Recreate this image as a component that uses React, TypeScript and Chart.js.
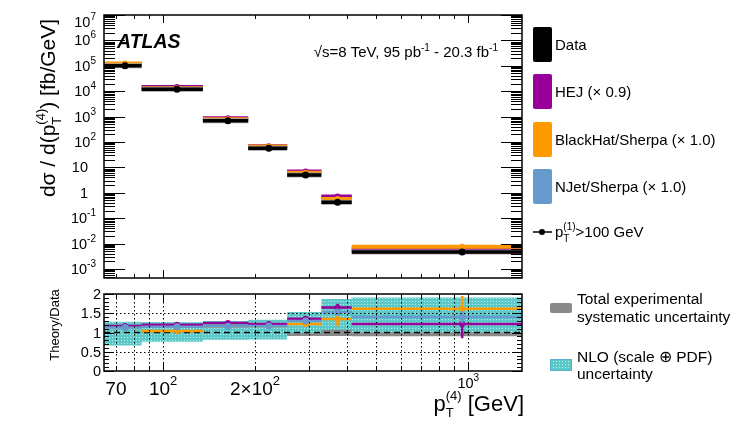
import { useEffect, useRef } from "react";
import { Chart, registerables } from "chart.js";

Chart.register(...registerables);

const FONT = "'Liberation Sans', Arial, Helvetica, sans-serif";

// pT(4) bins [GeV] and where the markers sit
const binEdges = [64, 85, 135, 190, 255, 330, 415, 1500];
const pointX = [75, 111, 163, 222, 293, 373, 955];

// dsigma/dpT(4) [fb/GeV]
const dataXsec = [1.0e5, 1.2e4, 680, 56, 5.0, 0.42, 0.0046];
const hejXsec = [1.18e5, 1.45e4, 860, 68, 6.8, 0.72, 0.0058];
const blackhatXsec = [1.22e5, 1.3e4, 780, 67, 6.2, 0.57, 0.0074];
const njetXsec = [1.17e5, 1.38e4, 790, 66, 6.5, 0.65, 0.0065];

// theory / data
const hejRatio = [1.17, 1.2, 1.25, 1.22, 1.36, 1.65, 1.22];
const hejErrLo = [1.17, 1.2, 1.25, 1.22, 1.36, 1.56, 0.85];
const hejErrHi = [1.17, 1.2, 1.25, 1.22, 1.36, 1.75, 1.28];
const blackhatRatio = [1.14, 1.04, 1.16, 1.17, 1.22, 1.35, 1.62];
const blackhatErrLo = [1.14, 1.04, 1.16, 1.17, 1.14, 1.16, 1.3];
const blackhatErrHi = [1.14, 1.04, 1.16, 1.17, 1.26, 1.4, 1.95];
const njetRatio = [1.13, 1.15, 1.16, 1.17, 1.3, 1.53, 1.4];
const njetErrLo = [1.13, 1.15, 1.16, 1.17, 1.3, 1.45, 1.25];
const njetErrHi = [1.13, 1.15, 1.16, 1.17, 1.3, 1.6, 1.55];
const nloLo = [0.66, 0.76, 0.81, 0.82, 0.98, 1.07, 1.0];
const nloHi = [1.28, 1.27, 1.3, 1.33, 1.53, 1.87, 1.91];
const sysLo = [0.93, 0.93, 0.93, 0.92, 0.91, 0.91, 0.9];
const sysHi = [1.07, 1.07, 1.07, 1.08, 1.09, 1.09, 1.1];

// axes
const topTickValues = [1e7, 1e6, 1e5, 1e4, 1e3, 1e2, 10, 1, 0.1, 0.01, 0.001];
const topTickLabels = ["10^7", "10^6", "10^5", "10^4", "10^3", "10^2", "10", "1", "10^-1", "10^-2", "10^-3"];
const ratioTickValues = [0, 0.5, 1, 1.5, 2];
const ratioTickLabels = ["0", "0.5", "1", "1.5", "2"];
const xTickValues = [70, 100, 200];
const xTickLabels = ["70", "10^2", "2\u00d710^2"];
const xGridValues = [70, 80, 90, 100, 200, 300, 400, 500, 600, 700, 800, 900, 1000];

const MAGENTA = "#990099";
const ORANGE = "#ff9900";
const BLUE = "#6699cc";
const GREY = "#8a8a8a";

type Run = { t: string; size: number; dy?: number; style?: string; under?: { t: string; dy: number } };

const fontOf = (r: Run) => `${r.style ?? ""} ${r.size}px ${FONT}`;

function drawRich(ctx: CanvasRenderingContext2D, runs: Run[], x: number, y: number, align: "left" | "center" | "right") {
  const widths = runs.map((r) => {
    ctx.font = fontOf(r);
    let w = ctx.measureText(r.t).width;
    if (r.under) w = Math.max(w, ctx.measureText(r.under.t).width);
    return w;
  });
  const total = widths.reduce((a, b) => a + b, 0);
  let cx = align === "left" ? x : align === "center" ? x - total / 2 : x - total;
  ctx.textAlign = "left";
  ctx.textBaseline = "alphabetic";
  ctx.fillStyle = "#000";
  runs.forEach((r, i) => {
    ctx.font = fontOf(r);
    ctx.fillText(r.t, cx, y + (r.dy ?? 0));
    if (r.under) ctx.fillText(r.under.t, cx, y + r.under.dy);
    cx += widths[i];
  });
}

function powRuns(label: string, size: number, sup: number, dy: number): Run[] {
  const [base, exp] = label.split("^");
  const runs: Run[] = [{ t: base, size }];
  if (exp) runs.push({ t: exp, size: sup, dy });
  return runs;
}

function binSegments(vals: number[]) {
  const pts: { x: number; y: number | null }[] = [];
  vals.forEach((v, i) => {
    pts.push({ x: binEdges[i], y: v }, { x: binEdges[i + 1], y: v }, { x: binEdges[i + 1], y: null });
  });
  return pts;
}

function stepLine(vals: number[]) {
  const pts: { x: number; y: number }[] = [];
  vals.forEach((v, i) => pts.push({ x: binEdges[i], y: v }, { x: binEdges[i + 1], y: v }));
  return pts;
}

function errBars(lo: number[], hi: number[]) {
  const pts: { x: number; y: number | null }[] = [];
  lo.forEach((l, i) => pts.push({ x: pointX[i], y: l }, { x: pointX[i], y: hi[i] }, { x: pointX[i], y: null }));
  return pts;
}

const markers = (vals: number[]) => vals.map((v, i) => ({ x: pointX[i], y: v }));

function bars(data: any, color: string, width: number, order: number) {
  return { data, borderColor: color, borderWidth: width, pointRadius: 0, order, spanGaps: false };
}

function dots(data: any, color: string, r: number, order: number) {
  return { data, showLine: false, pointRadius: r, pointBackgroundColor: color, pointBorderWidth: 0, order };
}

function drawFrameTicks(ctx: CanvasRenderingContext2D, chart: any, yMinor: number[], yMajor: (v: number) => boolean, yLen: [number, number]) {
  const a = chart.chartArea;
  const xs = chart.scales.x;
  const ys = chart.scales.y;
  ctx.save();
  ctx.strokeStyle = "#000";
  ctx.lineWidth = 1;
  ctx.beginPath();
  for (const v of yMinor) {
    const py = Math.round(ys.getPixelForValue(v)) + 0.5;
    const len = yMajor(v) ? yLen[0] : yLen[1];
    ctx.moveTo(a.left, py);
    ctx.lineTo(a.left + len, py);
    ctx.moveTo(a.right, py);
    ctx.lineTo(a.right - len, py);
  }
  for (const v of xGridValues) {
    const px = Math.round(xs.getPixelForValue(v)) + 0.5;
    const len = v === 100 || v === 1000 ? 8 : 4;
    ctx.moveTo(px, a.bottom);
    ctx.lineTo(px, a.bottom - len);
    ctx.moveTo(px, a.top);
    ctx.lineTo(px, a.top + len);
  }
  ctx.stroke();
  ctx.lineWidth = 1.5;
  ctx.strokeRect(a.left, a.top, a.right - a.left, a.bottom - a.top);
  ctx.restore();
}

function legendBox(ctx: CanvasRenderingContext2D, x: number, y: number, w: number, h: number, fill: string | CanvasPattern) {
  ctx.save();
  ctx.fillStyle = fill;
  ctx.beginPath();
  ctx.roundRect(x, y, w, h, 2);
  ctx.fill();
  ctx.restore();
}

const topDecor = {
  id: "topDecor",
  afterDraw(chart: any) {
    const ctx: CanvasRenderingContext2D = chart.ctx;
    const ys = chart.scales.y;
    const a = chart.chartArea;
    const minor: number[] = [];
    for (let e = -4; e <= 7; e++) for (let m = 1; m <= 9; m++) {
      const v = m * Math.pow(10, e);
      if (v >= ys.min && v <= ys.max * 1.0001) minor.push(v);
    }
    drawFrameTicks(ctx, chart, minor, (v) => Math.abs(Math.log10(v) - Math.round(Math.log10(v))) < 1e-6, [21, 11]);

    topTickValues.forEach((v, i) => {
      const lbl = topTickLabels[i];
      const py = Math.max(ys.getPixelForValue(v), a.top + 7) + 5;
      drawRich(ctx, powRuns(lbl, 14.5, 10, -7), lbl.includes("^") ? 96 : 88, py, "right");
    });

    drawRich(ctx, [{ t: "ATLAS", size: 19.5, style: "italic bold" }], 117, 48, "left");
    drawRich(
      ctx,
      [
        { t: "\u221as=8 TeV, 95 pb", size: 15 },
        { t: "-1", size: 10, dy: -6 },
        { t: " - 20.3 fb", size: 15 },
        { t: "-1", size: 10, dy: -6 },
      ],
      498,
      57,
      "right"
    );

    ctx.save();
    ctx.translate(55, 108);
    ctx.rotate(-Math.PI / 2);
    drawRich(
      ctx,
      [
        { t: "d\u03c3 / d(p", size: 21 },
        { t: "(4)", size: 13, dy: -10, under: { t: "T", dy: 6 } },
        { t: ") [fb/GeV]", size: 21 },
      ],
      0,
      0,
      "center"
    );
    ctx.restore();

    const entries: [string, string][] = [
      ["#000000", "Data"],
      [MAGENTA, "HEJ (\u00d7 0.9)"],
      [ORANGE, "BlackHat/Sherpa (\u00d7 1.0)"],
      [BLUE, "NJet/Sherpa (\u00d7 1.0)"],
    ];
    const tops = [27, 74, 122, 169];
    entries.forEach(([c, t], i) => {
      legendBox(ctx, 533, tops[i], 19, 35, c);
      drawRich(ctx, [{ t, size: 15 }], 555, tops[i] + 23, "left");
    });
    ctx.save();
    ctx.strokeStyle = "#000";
    ctx.lineWidth = 1.5;
    ctx.beginPath();
    ctx.moveTo(533, 232);
    ctx.lineTo(552, 232);
    ctx.stroke();
    ctx.beginPath();
    ctx.arc(542, 232, 3, 0, Math.PI * 2);
    ctx.fillStyle = "#000";
    ctx.fill();
    ctx.restore();
    drawRich(
      ctx,
      [
        { t: "p", size: 15 },
        { t: "(1)", size: 10, dy: -7, under: { t: "T", dy: 5 } },
        { t: ">100 GeV", size: 15 },
      ],
      555,
      237,
      "left"
    );
  },
};

function makeBottomDecor(pattern: CanvasPattern | string) {
  return {
    id: "bottomDecor",
    afterDatasetsDraw(chart: any) {
      const ctx: CanvasRenderingContext2D = chart.ctx;
      const a = chart.chartArea;
      const xs = chart.scales.x;
      const ys = chart.scales.y;
      ctx.save();
      ctx.strokeStyle = "#000";
      ctx.lineWidth = 1;
      ctx.setLineDash([1.5, 2.5]);
      ctx.beginPath();
      for (const v of xGridValues) {
        const px = Math.round(xs.getPixelForValue(v)) + 0.5;
        ctx.moveTo(px, a.top);
        ctx.lineTo(px, a.bottom);
      }
      for (const v of [0.5, 1.5]) {
        const py = Math.round(ys.getPixelForValue(v)) + 0.5;
        ctx.moveTo(a.left, py);
        ctx.lineTo(a.right, py);
      }
      ctx.stroke();
      ctx.restore();
    },
    afterDraw(chart: any) {
      const ctx: CanvasRenderingContext2D = chart.ctx;
      const xs = chart.scales.x;
      const ys = chart.scales.y;
      const minor: number[] = [];
      for (let i = 0; i <= 20; i++) minor.push(i / 10);
      drawFrameTicks(ctx, chart, minor, (v) => Math.abs(v * 2 - Math.round(v * 2)) < 1e-6, [10, 5]);

      ratioTickValues.forEach((v, i) => {
        drawRich(ctx, [{ t: ratioTickLabels[i], size: 14.5 }], 101, ys.getPixelForValue(v) + 5, "right");
      });
      xTickValues.forEach((v, i) => {
        drawRich(ctx, powRuns(xTickLabels[i], 19, 13, -10), xs.getPixelForValue(v), 395, "center");
      });
      drawRich(ctx, powRuns("10^3", 14.5, 10, -7), xs.getPixelForValue(1000), 388, "center");

      drawRich(
        ctx,
        [
          { t: "p", size: 22 },
          { t: "(4)", size: 13, dy: -11, under: { t: "T", dy: 6 } },
          { t: " [GeV]", size: 22 },
        ],
        524,
        411,
        "right"
      );

      ctx.save();
      ctx.translate(59, 325);
      ctx.rotate(-Math.PI / 2);
      drawRich(ctx, [{ t: "Theory/Data", size: 13 }], 0, 0, "center");
      ctx.restore();

      legendBox(ctx, 550, 303, 22, 10, GREY);
      drawRich(ctx, [{ t: "Total experimental", size: 15.5 }], 577, 304, "left");
      drawRich(ctx, [{ t: "systematic uncertainty", size: 15.5 }], 577, 322, "left");
      legendBox(ctx, 550, 359, 22, 12, pattern);
      ctx.save();
      ctx.strokeStyle = "#5fb0d0";
      ctx.lineWidth = 1;
      ctx.strokeRect(550.5, 359.5, 21, 11);
      ctx.restore();
      drawRich(ctx, [{ t: "NLO (scale \u2295 PDF)", size: 15.5 }], 577, 362, "left");
      drawRich(ctx, [{ t: "uncertainty", size: 15.5 }], 577, 379, "left");
    },
  };
}

function baseOptions(padding: any, yType: string, yMin: number, yMax: number): any {
  return {
    responsive: false,
    animation: false,
    events: [],
    layout: { padding },
    plugins: { legend: { display: false }, tooltip: { enabled: false } },
    scales: {
      x: { type: "logarithmic", min: binEdges[0], max: binEdges[binEdges.length - 1], display: false },
      y: { type: yType, min: yMin, max: yMax, display: false },
    },
  };
}

export default function App() {
  const topRef = useRef<HTMLCanvasElement>(null);
  const botRef = useRef<HTMLCanvasElement>(null);

  useEffect(() => {
    if (!topRef.current || !botRef.current) return;

    const tile = document.createElement("canvas");
    tile.width = 3;
    tile.height = 3;
    const tctx = tile.getContext("2d")!;
    tctx.fillStyle = "#5cc8c8";
    tctx.fillRect(0, 0, 3, 3);
    tctx.fillStyle = "#b8ecec";
    tctx.fillRect(1, 1, 1, 1);
    const pattern = botRef.current.getContext("2d")!.createPattern(tile, "repeat") ?? "#5cc8c8";

    const top = new Chart(topRef.current, {
      type: "line",
      data: {
        datasets: [
          dots(markers(dataXsec), "#000", 3.5, 0),
          bars(binSegments(dataXsec), "#000", 3.5, 1),
          bars(binSegments(dataXsec), "#a0a0a0", 5, 2),
          dots(markers(blackhatXsec), ORANGE, 3, 3),
          bars(binSegments(blackhatXsec), ORANGE, 4, 4),
          dots(markers(hejXsec), MAGENTA, 3, 5),
          bars(binSegments(hejXsec), MAGENTA, 4, 6),
          bars(binSegments(njetXsec), BLUE, 4, 7),
        ] as any,
      },
      options: baseOptions({ left: 104, right: 225, top: 15, bottom: 152 }, "logarithmic", 4.4e-4, 1e7),
      plugins: [topDecor],
    });

    const bottom = new Chart(botRef.current, {
      type: "line",
      data: {
        datasets: [
          dots(markers(njetRatio), BLUE, 3.5, 0),
          bars(errBars(njetErrLo, njetErrHi), BLUE, 2.5, 1),
          bars(binSegments(njetRatio), BLUE, 2.5, 2),
          dots(markers(hejRatio), MAGENTA, 3, 3),
          bars(errBars(hejErrLo, hejErrHi), MAGENTA, 2.5, 4),
          bars(binSegments(hejRatio), MAGENTA, 2.5, 5),
          dots(markers(blackhatRatio), ORANGE, 3, 6),
          bars(errBars(blackhatErrLo, blackhatErrHi), ORANGE, 2.5, 7),
          bars(binSegments(blackhatRatio), ORANGE, 2.5, 8),
          {
            data: [
              { x: binEdges[0], y: 1 },
              { x: binEdges[binEdges.length - 1], y: 1 },
            ],
            borderColor: "#000",
            borderWidth: 1.5,
            borderDash: [6, 4],
            pointRadius: 0,
            order: 9,
          },
          {
            data: stepLine(nloHi),
            borderColor: "transparent",
            borderWidth: 0,
            pointRadius: 0,
            fill: "+1",
            backgroundColor: pattern,
            order: 10,
          },
          { data: stepLine(nloLo), borderColor: "transparent", borderWidth: 0, pointRadius: 0, order: 11 },
          {
            data: stepLine(sysHi),
            borderColor: "transparent",
            borderWidth: 0,
            pointRadius: 0,
            fill: "+1",
            backgroundColor: GREY,
            order: 12,
          },
          { data: stepLine(sysLo), borderColor: "transparent", borderWidth: 0, pointRadius: 0, order: 13 },
        ] as any,
      },
      options: baseOptions({ left: 104, right: 225, top: 294, bottom: 59 }, "linear", 0, 2),
      plugins: [makeBottomDecor(pattern)],
    });

    return () => {
      top.destroy();
      bottom.destroy();
    };
  }, []);

  return (
    <div style={{ position: "fixed", left: 0, top: 0, width: 747, height: 430, background: "#fff" }}>
      <canvas ref={botRef} width={747} height={430} style={{ position: "absolute", left: 0, top: 0, width: 747, height: 430 }} />
      <canvas ref={topRef} width={747} height={430} style={{ position: "absolute", left: 0, top: 0, width: 747, height: 430 }} />
    </div>
  );
}
